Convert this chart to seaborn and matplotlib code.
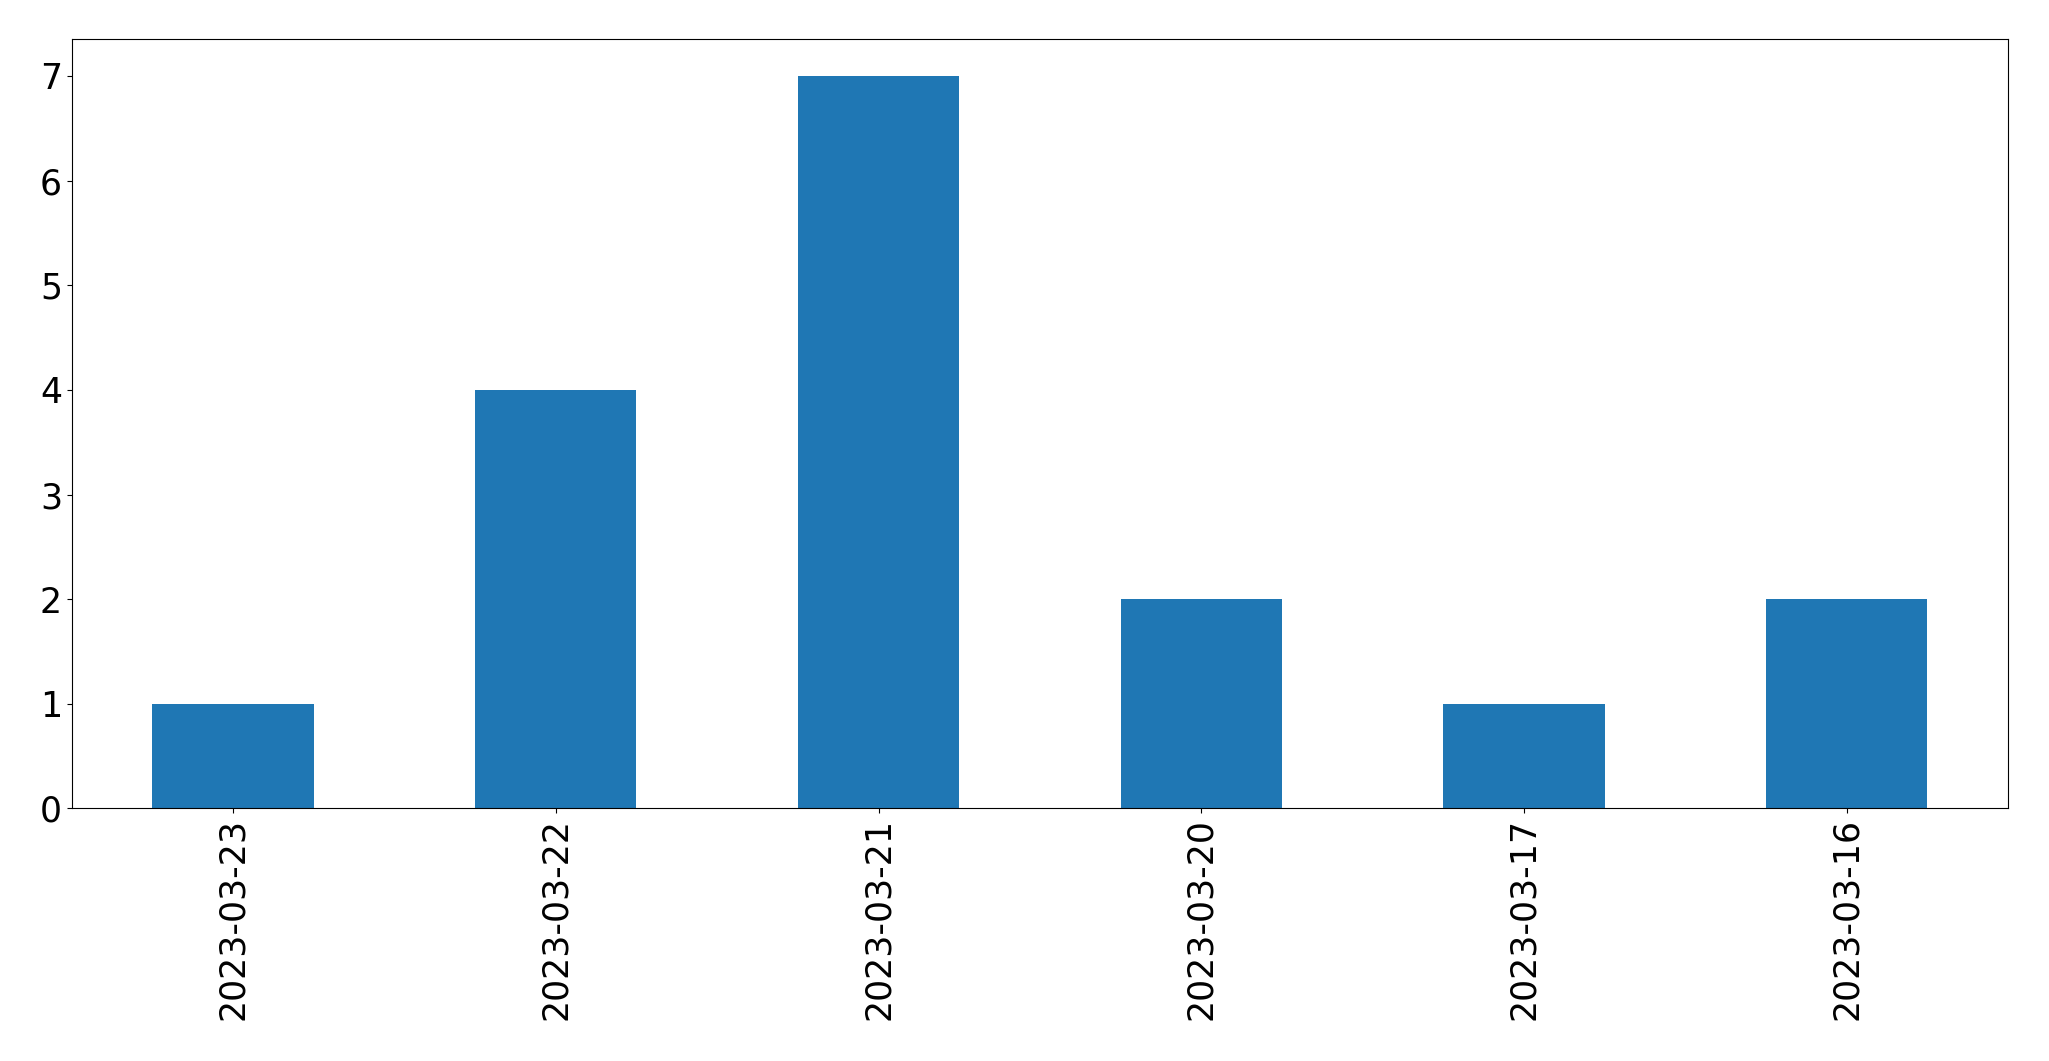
import matplotlib
matplotlib.use("Agg")
import matplotlib.pyplot as plt
import seaborn as sns
import pandas as pd

dates = ["2023-03-23", "2023-03-22", "2023-03-21", "2023-03-20", "2023-03-17", "2023-03-16"]
counts = [1, 4, 7, 2, 1, 2]

df = pd.DataFrame({"date": dates, "count": counts})

plt.rcParams['font.family'] = ['DejaVu Sans']

fig, ax = plt.subplots(figsize=(20.49, 10.61), dpi=100)
sns.barplot(data=df, x="date", y="count", order=dates, color="#1f77b4",
            saturation=1, width=0.5, ax=ax, errorbar=None,
            linewidth=0, edgecolor="none")
ax.set_xlim(-0.5, 5.5)
ax.set_ylim(0, 7.35)
ax.set_xlabel("")
ax.set_ylabel("")
ax.tick_params(axis="both", labelsize=25, length=3.5, colors="black")
plt.setp(ax.get_xticklabels(), rotation=90)
for s in ax.spines.values():
    s.set_visible(True)
    s.set_linewidth(0.8)
    s.set_color("black")
fig.subplots_adjust(left=0.035, right=0.980, top=0.963, bottom=0.238)
fig.savefig("out.png", dpi=100)
